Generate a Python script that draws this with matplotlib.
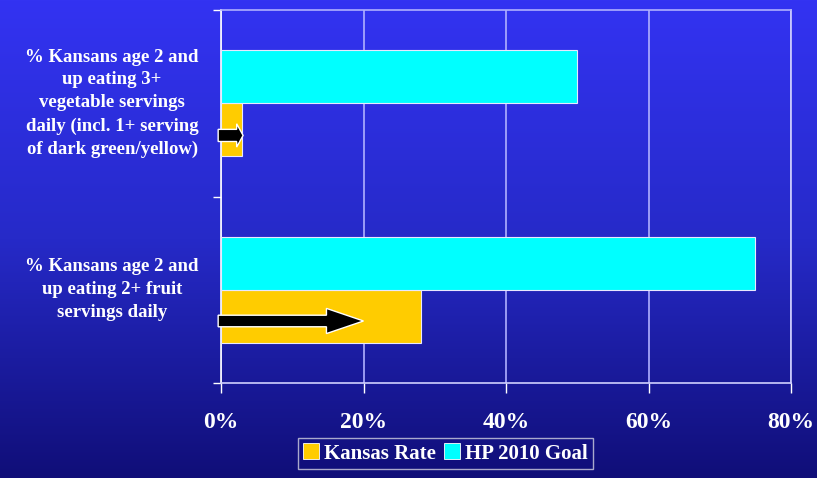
import numpy as np
import matplotlib
matplotlib.use('Agg')
import matplotlib.pyplot as plt
from matplotlib.patches import FancyArrow, Patch
from matplotlib.colors import LinearSegmentedColormap

categories = ['% Kansans age 2 and\nup eating 2+ fruit\nservings daily',
              '% Kansans age 2 and\nup eating 3+\nvegetable servings\ndaily (incl. 1+ serving\nof dark green/yellow)']
kansas_rate = [28, 3]
hp_goal = [75, 50]
arrow_tips = [20, 3.1]
x_ticks = [0, 20, 40, 60, 80]
x_labels = ['0%', '20%', '40%', '60%', '80%']

plt.rcParams['font.family'] = ['Liberation Serif', 'DejaVu Serif']
plt.rcParams['font.weight'] = 'bold'

fig = plt.figure(figsize=(8.17, 4.78), dpi=100)

# background gradient
bg = fig.add_axes([0, 0, 1, 1], zorder=-10)
cmap = LinearSegmentedColormap.from_list('bg', ['#3333f2', '#262ac8', '#100e78'])
bg.imshow(np.linspace(0, 1, 256).reshape(-1, 1), aspect='auto', cmap=cmap, extent=[0, 1, 0, 1])
bg.axis('off')

ax = fig.add_axes([221 / 817, 1 - 383 / 478, 570 / 817, 373 / 478])
ax.patch.set_alpha(0)

y = np.arange(len(categories))
h = 0.285
ax.barh(y - h / 2, kansas_rate, height=h, color='#ffcc00', edgecolor='#e8e8ff', linewidth=0.8, zorder=3)
ax.barh(y + h / 2, hp_goal, height=h, color='#00ffff', edgecolor='#e8e8ff', linewidth=0.8, zorder=3)

# arrows on the Kansas bars
for i, tip in enumerate(arrow_tips):
    if i == 0:
        yc = y[i] - h / 2 - 0.025
        w, hw, hl = 0.062, 0.135, 5.2
    else:
        yc = y[i] - h / 2 - 0.03
        w, hw, hl = 0.065, 0.125, 0.9
    ax.add_patch(FancyArrow(-0.4, yc, tip + 0.4, 0, width=w, head_width=hw, head_length=hl,
                            length_includes_head=True, facecolor='black', edgecolor='white',
                            linewidth=1.0, zorder=5, clip_on=False))

ax.set_xlim(0, 80)
ax.set_ylim(-0.5, 1.5)
ax.set_xticks(x_ticks)
ax.set_xticklabels(x_labels, fontsize=17, color='white', fontweight='bold')
ax.tick_params(axis='x', direction='out', length=7, width=1, color='white', pad=14)

ax.set_yticks([-0.5, 0.5, 1.5])
ax.set_yticklabels([])
ax.tick_params(axis='y', direction='out', length=6, width=1, color='white')

for i, c in enumerate(categories):
    ax.text(-0.191, y[i], c, transform=ax.get_yaxis_transform(), ha='center', va='center',
            multialignment='center', fontsize=13.5, color='white', fontweight='bold', linespacing=1.45)

ax.grid(axis='x', color='#b0b0ff', linewidth=1.2, zorder=0)
ax.spines['left'].set_color('white')
ax.spines['bottom'].set_color('#d0d0ff')
ax.spines['top'].set_color('#b0b0ff')
ax.spines['right'].set_color('#d0d0ff')
for s in ax.spines.values():
    s.set_linewidth(1.2)

handles = [Patch(facecolor='#ffcc00', edgecolor='white', linewidth=0.6, label='Kansas Rate'),
           Patch(facecolor='#00ffff', edgecolor='white', linewidth=0.6, label='HP 2010 Goal')]
leg = fig.legend(handles=handles, loc='upper center', bbox_to_anchor=(0.545, 1 - 432 / 478), ncol=2,
                 frameon=True, fancybox=False, handlelength=0.75, handleheight=0.8, handletextpad=0.25,
                 columnspacing=0.4, borderpad=0.25, borderaxespad=0.3, prop={'size': 15, 'weight': 'bold'})
leg.get_frame().set_facecolor('none')
leg.get_frame().set_edgecolor('#d0d0e0')
for t in leg.get_texts():
    t.set_color('white')

fig.savefig('out.png', dpi=100)
